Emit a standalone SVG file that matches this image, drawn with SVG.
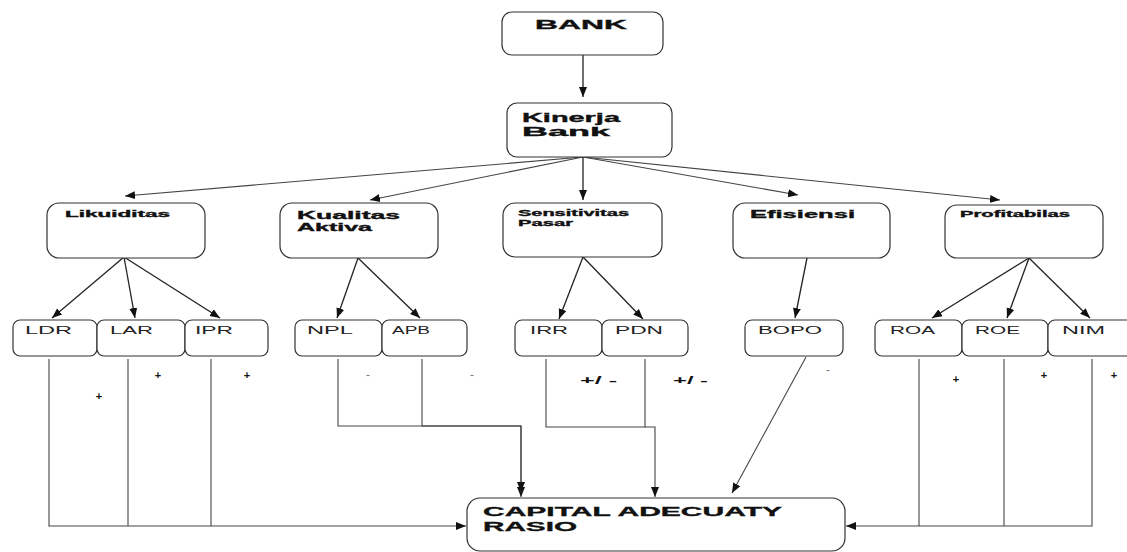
<svg xmlns="http://www.w3.org/2000/svg" width="1127" height="552" viewBox="0 0 1127 552">
<style>
.box{fill:#fff;stroke:#333;stroke-width:1.2}
.ln{fill:none;stroke:#222;stroke-width:1.3}
.lg{fill:none;stroke:#444;stroke-width:1.1}
.t{font-family:"Liberation Sans",Arial,sans-serif;font-weight:bold;fill:#111;stroke:#111;stroke-width:0.35}
.l{font-family:"Liberation Sans",Arial,sans-serif;fill:#222;font-size:10px}
.s{font-family:"Liberation Sans",Arial,sans-serif;font-weight:bold;fill:#111;font-size:11px}
.m{font-family:"Liberation Sans",Arial,sans-serif;fill:#777;font-size:12px}
</style>
<defs>
<marker id="ah" markerUnits="userSpaceOnUse" markerWidth="10" markerHeight="10" viewBox="0 0 10 10" refX="10" refY="5" orient="auto">
<path d="M0,1 L10,5 L0,9 Z" fill="#111"/>
</marker>
</defs>

<g id="connectors">
<path class="ln" d="M583,55 V97" marker-end="url(#ah)"/>
<path class="lg" d="M583,157 L125,196" marker-end="url(#ah)"/>
<path class="lg" d="M583,157 L370,200" marker-end="url(#ah)"/>
<path class="ln" d="M583,157 V200" marker-end="url(#ah)"/>
<path class="lg" d="M583,157 L798,195" marker-end="url(#ah)"/>
<path class="lg" d="M583,157 L1000,200" marker-end="url(#ah)"/>

<path class="ln" d="M124,257 L52,318" marker-end="url(#ah)"/>
<path class="ln" d="M124,257 L135,318" marker-end="url(#ah)"/>
<path class="ln" d="M124,257 L220,318" marker-end="url(#ah)"/>
<path class="ln" d="M358,258 L337,318" marker-end="url(#ah)"/>
<path class="ln" d="M358,258 L420,318" marker-end="url(#ah)"/>
<path class="ln" d="M583,257 L559,319" marker-end="url(#ah)"/>
<path class="ln" d="M583,257 L643,319" marker-end="url(#ah)"/>
<path class="ln" d="M807,258 L795,318" marker-end="url(#ah)"/>
<path class="ln" d="M1029,258 L932,318" marker-end="url(#ah)"/>
<path class="ln" d="M1029,258 L1007,318" marker-end="url(#ah)"/>
<path class="ln" d="M1029,258 L1090,318" marker-end="url(#ah)"/>

<path class="lg" d="M49,359 V526 H466" marker-end="url(#ah)"/>
<path class="lg" d="M128,359 V526"/>
<path class="lg" d="M211,359 V526"/>

<path class="lg" d="M338,359 V426 H521 V497" marker-end="url(#ah)"/>
<path class="lg" d="M422,359 V426 H521 V492" marker-end="url(#ah)"/>

<path class="lg" d="M546,359 V427 H645"/>
<path class="lg" d="M645,359 V427 H655 V497" marker-end="url(#ah)"/>

<path class="lg" d="M806,357 L732,493" marker-end="url(#ah)"/>

<path class="lg" d="M1092,359 V526 H846" marker-end="url(#ah)"/>
<path class="lg" d="M1004,359 V526"/>
<path class="lg" d="M919,359 V526"/>
</g>

<g id="bank"><rect class="box" x="502" y="12" width="161" height="43" rx="10"/><text class="t" x="535" y="28.5" font-size="13" textLength="92" lengthAdjust="spacingAndGlyphs">BANK</text></g>
<g id="kinerja"><rect class="box" x="507" y="103" width="165" height="54" rx="10"/><text class="t" x="522" y="122" font-size="12.5" textLength="98" lengthAdjust="spacingAndGlyphs">Kinerja</text><text class="t" x="522" y="135.5" font-size="12.5" textLength="88" lengthAdjust="spacingAndGlyphs">Bank</text></g>

<g id="likuiditas"><rect class="box" x="47" y="203" width="158" height="55" rx="12"/><text class="t" x="65" y="217" font-size="9" textLength="105" lengthAdjust="spacingAndGlyphs">Likuiditas</text></g>
<g id="kualitas"><rect class="box" x="280" y="203" width="158" height="55" rx="12"/><text class="t" x="297" y="219" font-size="11" textLength="103" lengthAdjust="spacingAndGlyphs">Kualitas</text><text class="t" x="297" y="231" font-size="11" textLength="75" lengthAdjust="spacingAndGlyphs">Aktiva</text></g>
<g id="sensitivitas"><rect class="box" x="503" y="203" width="159" height="54" rx="12"/><text class="t" x="518" y="216" font-size="9" textLength="111" lengthAdjust="spacingAndGlyphs">Sensitivitas</text><text class="t" x="518" y="225.5" font-size="9" textLength="55" lengthAdjust="spacingAndGlyphs">Pasar</text></g>
<g id="efisiensi"><rect class="box" x="733" y="203" width="157" height="55" rx="12"/><text class="t" x="750" y="218" font-size="11" textLength="105" lengthAdjust="spacingAndGlyphs">Efisiensi</text></g>
<g id="profitabilas"><rect class="box" x="945" y="205" width="158" height="53" rx="12"/><text class="t" x="960" y="217" font-size="9" textLength="110" lengthAdjust="spacingAndGlyphs">Profitabilas</text></g>

<g id="ldr"><rect class="box" x="13" y="320" width="84" height="36" rx="7"/><text class="l" x="25" y="334" textLength="47" lengthAdjust="spacingAndGlyphs">LDR</text></g>
<g id="lar"><rect class="box" x="97" y="320" width="88" height="36" rx="7"/><text class="l" x="110" y="334" textLength="43" lengthAdjust="spacingAndGlyphs">LAR</text></g>
<g id="ipr"><rect class="box" x="185" y="320" width="83" height="36" rx="7"/><text class="l" x="195" y="334" textLength="38" lengthAdjust="spacingAndGlyphs">IPR</text></g>
<g id="npl"><rect class="box" x="295" y="320" width="87" height="36" rx="7"/><text class="l" x="307" y="334" textLength="46" lengthAdjust="spacingAndGlyphs">NPL</text></g>
<g id="apb"><rect class="box" x="382" y="320" width="85" height="36" rx="7"/><text class="l" x="392" y="334" textLength="38" lengthAdjust="spacingAndGlyphs">APB</text></g>
<g id="irr"><rect class="box" x="515" y="320" width="87" height="36" rx="7"/><text class="l" x="530" y="334" textLength="38" lengthAdjust="spacingAndGlyphs">IRR</text></g>
<g id="pdn"><rect class="box" x="602" y="320" width="86" height="36" rx="7"/><text class="l" x="615" y="334" textLength="48" lengthAdjust="spacingAndGlyphs">PDN</text></g>
<g id="bopo"><rect class="box" x="745" y="320" width="98" height="36" rx="7"/><text class="l" x="758" y="334" textLength="64" lengthAdjust="spacingAndGlyphs">BOPO</text></g>
<g id="roa"><rect class="box" x="875" y="320" width="87" height="36" rx="7"/><text class="l" x="890" y="334" textLength="45" lengthAdjust="spacingAndGlyphs">ROA</text></g>
<g id="roe"><rect class="box" x="962" y="320" width="86" height="36" rx="7"/><text class="l" x="975" y="334" textLength="45" lengthAdjust="spacingAndGlyphs">ROE</text></g>
<g id="nim"><rect class="box" x="1048" y="320" width="86" height="36" rx="7"/><text class="l" x="1062" y="334" textLength="43" lengthAdjust="spacingAndGlyphs">NIM</text></g>

<g id="car"><rect class="box" x="467" y="498" width="378" height="53" rx="13"/><text class="t" x="483" y="516" font-size="13.5" textLength="299" lengthAdjust="spacingAndGlyphs">CAPITAL ADECUATY</text><text class="t" x="483" y="531" font-size="13.5" textLength="94" lengthAdjust="spacingAndGlyphs">RASIO</text></g>

<g id="signs">
<text class="s" x="99" y="400" text-anchor="middle">+</text>
<text class="s" x="158" y="379" text-anchor="middle">+</text>
<text class="s" x="247" y="379" text-anchor="middle">+</text>
<text class="m" x="368" y="379" text-anchor="middle">-</text>
<text class="m" x="472" y="379" text-anchor="middle">-</text>
<text class="s" x="580" y="384" textLength="37" lengthAdjust="spacingAndGlyphs">+/ -</text>
<text class="s" x="673" y="384" textLength="35" lengthAdjust="spacingAndGlyphs">+/ -</text>
<text class="m" x="828" y="374" text-anchor="middle">-</text>
<text class="s" x="956" y="383" text-anchor="middle">+</text>
<text class="s" x="1044" y="379" text-anchor="middle">+</text>
<text class="s" x="1114" y="379" text-anchor="middle">+</text>
</g>
</svg>
